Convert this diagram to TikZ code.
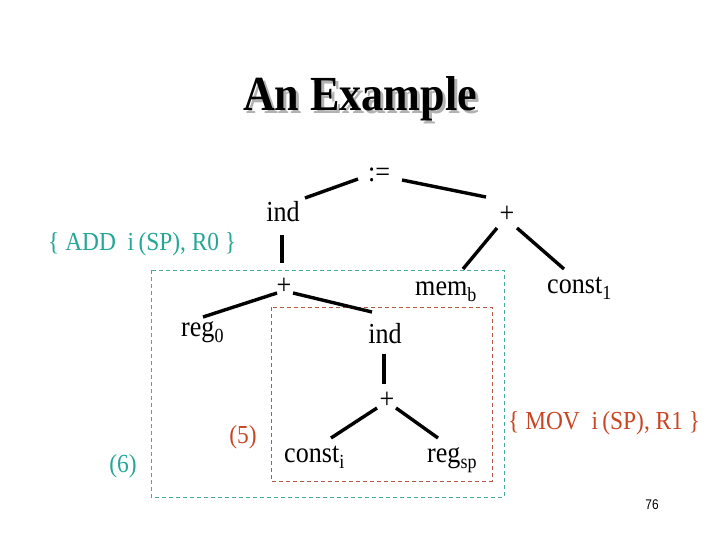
\documentclass[tikz,border=0pt]{standalone}
\usepackage{fontspec}
\setmainfont{Liberation Serif}[FakeStretch=0.9]
\newfontfamily\pagenumfont{Liberation Sans}[FakeStretch=0.85]
\usetikzlibrary{calc}
\definecolor{tealtxt}{RGB}{38,166,150}
\definecolor{redtxt}{RGB}{200,70,36}
\definecolor{tealbox}{RGB}{70,170,160}
\definecolor{redbox}{RGB}{180,90,70}
\newcommand\mysub[1]{\raisebox{-6.5pt}{\fontsize{20}{20}\selectfont #1}}
\tikzset{
  treetext/.style={inner sep=0pt, font=\fontsize{29}{29}\selectfont},
  opnode/.style={inner sep=0pt, anchor=center, font=\fontsize{29}{29}\selectfont},
  edge/.style={line width=3.4pt, black},
  lbl/.style={inner sep=0pt, anchor=base, font=\fontsize{26}{26}\selectfont},
  dashbox/.style={line width=1pt, dash pattern=on 4pt off 3pt},
}
\begin{document}
\begin{tikzpicture}[x=1pt,y=-1pt]
\useasboundingbox (0,0) rectangle (720,540);
% title with shadow
\node[inner sep=0pt, anchor=base, text=black!30, font=\fontsize{49}{49}\selectfont\bfseries] (titleshadow) at (363,114) {An Example};
\node[inner sep=0pt, anchor=base, font=\fontsize{49}{49}\selectfont\bfseries] (title) at (360,111) {An Example};

% dashed boxes
\draw[dashbox, tealbox] (151,270) rectangle (504,497);
\draw[dashbox, redbox] (271,307) rectangle (492,481);

% tree nodes
\node[treetext, anchor=base] (assign) at (379,182) {:=};
\node[treetext, anchor=base] (ind1) at (283,222) {ind};
\node[opnode] (plus1) at (507,214) {+};
\node[opnode] (plus2) at (284,286) {+};
\node[treetext, anchor=base west] (memb) at (415,295) {mem\mysub{b}};
\node[treetext, anchor=base west] (const1) at (547,293) {const\mysub{1}};
\node[treetext, anchor=base west] (reg0) at (181,336) {reg\mysub{0}};
\node[treetext, anchor=base] (ind2) at (385,343) {ind};
\node[opnode] (plus3) at (387,400) {+};
\node[treetext, anchor=base west] (consti) at (284,462) {const\mysub{i}};
\node[treetext, anchor=base west] (regsp) at (427,462) {reg\mysub{sp}};

% labels
\node[lbl, anchor=base west, text=tealtxt] (addlbl) at (48,250) {\{ ADD\ \ i\,(SP), R0 \}};
\node[lbl, anchor=base west, text=redtxt] (movlbl) at (508,429) {\{ MOV\ \ i\,(SP), R1 \}};
\node[lbl, text=redtxt] (five) at (243,443) {(5)};
\node[lbl, text=tealtxt] (six) at (123,472) {(6)};
\node[inner sep=0pt, anchor=base, font=\pagenumfont\fontsize{14}{14}\selectfont] (pagenum) at (652,509) {76};

% edges
\draw[edge] ($(assign.base)+(-21,-3)$) -- ($(ind1.base)+(22,-24)$);
\draw[edge] ($(assign.base)+(23,-2)$) -- ($(plus1.center)+(-21,-17)$);
\draw[edge] ($(ind1.base)+(-1,13)$) -- ($(plus2.center)+(-2,-23)$);
\draw[edge] ($(plus1.center)+(-10,14)$) -- ($(memb.base west)+(48,-26)$);
\draw[edge] ($(plus1.center)+(10,14)$) -- ($(const1.base west)+(17,-24)$);
\draw[edge] ($(plus2.center)+(-7,7)$) -- ($(reg0.base west)+(22,-19)$);
\draw[edge] ($(plus2.center)+(9,7)$) -- ($(ind2.base)+(-13,-31)$);
\draw[edge] ($(ind2.base)+(-1,11)$) -- ($(plus3.center)+(-3,-16)$);
\draw[edge] ($(plus3.center)+(-10,8)$) -- ($(consti.base west)+(47,-24)$);
\draw[edge] ($(plus3.center)+(9,8)$) -- ($(regsp.base west)+(11,-24)$);
\end{tikzpicture}
\end{document}
